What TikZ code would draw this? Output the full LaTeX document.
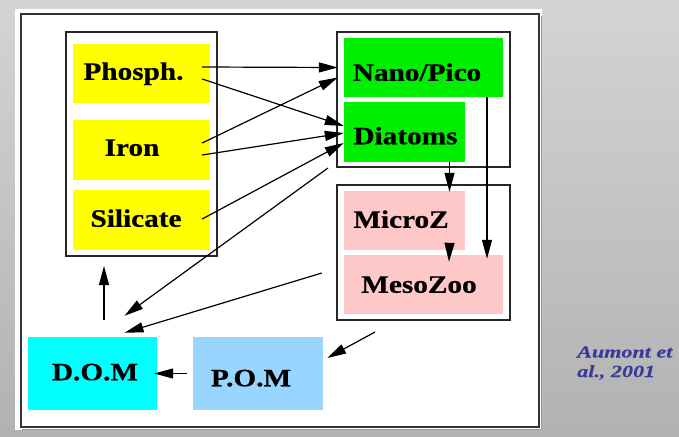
\documentclass[tikz,border=0pt]{standalone}
\usepackage{fontspec}
\setmainfont{Liberation Serif}
\newfontfamily\boxfont[FakeBold=0.6]{Liberation Serif Bold}
\newfontfamily\reffont[FakeBold=0.4]{Liberation Serif Bold Italic}
\usetikzlibrary{arrows.meta,calc}
\newcommand\sx[1]{\scalebox{1.17}[1]{#1}}
% #1 = x shift (px, right), #2 = y shift (px, down), #3 = text
\newcommand\tx[3]{\makebox[0pt]{\hspace*{#1pt}\hspace*{#1pt}\raisebox{-#2pt}{\sx{#3}}}}
\definecolor{bgtop}{HTML}{D4D4D4}
\definecolor{bgbot}{HTML}{B2B2B2}
\definecolor{yel}{HTML}{FFFF00}
\definecolor{grn}{HTML}{00EE00}
\definecolor{pnk}{HTML}{FFC8C8}
\definecolor{cya}{HTML}{00FFFF}
\definecolor{lbl}{HTML}{99D6FF}
\definecolor{ref}{HTML}{3A3A99}
\begin{document}
\begin{tikzpicture}[x=1pt,y=-1pt,
  box/.style={rectangle, inner sep=0pt, text height=16.5pt, text depth=0pt,
    font=\boxfont\fontsize{25}{30}\selectfont},
  grp/.style={draw=black!85, line width=1.2pt},
  arr/.style={-{Triangle[length=19pt,width=10pt]}, line width=1.2pt},
]
\useasboundingbox (0,0) rectangle (679,436);
\shade[top color=bgtop, bottom color=bgbot] (0,0) rectangle (679,436);
\fill[white] (15,9) rectangle (542,430);
\draw[black!40, line width=1.2pt] (541.5,16) -- (541.5,429.5) -- (22,429.5);
\draw[black!80, line width=1.6pt] (21,14) rectangle (539,427);

% group frames
\draw[grp] (66,32) rectangle (217,256);
\coordinate (grpLs) at (141.5,256);
\draw[grp] (337,32) rectangle (510,167);
\coordinate (grpTsw) at (337,167);
\draw[grp] (337,185) rectangle (510,320);
\coordinate (grpBs) at (423.5,320);

% boxes
\node[box, fill=yel, minimum width=137, minimum height=59] (ph) at (141.5,73.5) {\tx{-8}{-2}{Phosph.}};
\node[box, fill=yel, minimum width=137, minimum height=60] (fe) at (141.5,150) {\tx{-9.5}{-2.5}{Iron}};
\node[box, fill=yel, minimum width=137, minimum height=60] (si) at (141.5,220) {\tx{-5.5}{-1.5}{Silicate}};
\node[box, fill=grn, minimum width=159, minimum height=59] (np) at (423.5,67.5) {\tx{-6.5}{5}{Nano/Pico}};
\node[box, fill=grn, minimum width=121, minimum height=60] (dia) at (404.5,132) {\tx{1}{4}{Diatoms}};
\node[box, fill=pnk, minimum width=121, minimum height=59] (mic) at (404.5,220.5) {\tx{-3.5}{-1}{MicroZ}};
\node[box, fill=pnk, minimum width=159, minimum height=59] (meso) at (423.5,284.5) {\tx{-4.5}{0}{MesoZoo}};
\node[box, fill=cya, minimum width=129, minimum height=73] (dom) at (92.5,373.5) {\tx{2.5}{-1.5}{D.O.M}};
\node[box, fill=lbl, minimum width=130, minimum height=73] (pom) at (258,373.5) {\tx{-7}{4.5}{P.O.M}};

% reference
\node[anchor=base west, inner sep=0pt, text=ref, align=left,
  font=\reffont\fontsize{17}{19.5}\selectfont] (refn) at (577,377)
  {\scalebox{1.3}[1]{Aumont et}\\\scalebox{1.3}[1]{al., 2001}};

% arrows
\draw[arr] ($(ph.east)+(-8,-6.5)$) -- ($(np.west)+(-6,0)$);
\draw[arr] ($(ph.east)+(-8,5.5)$) -- ($(dia.west)+(0,-6)$);
\draw[arr] ($(fe.east)+(-8,-7)$) -- ($(np.west)+(-6,10)$);
\draw[arr] ($(fe.east)+(-8,5)$) -- ($(dia.west)+(0,1)$);
\draw[arr] ($(si.east)+(-8,-1)$) -- ($(dia.west)+(0,11)$);
\draw[arr] ($(grpTsw)+(-9,1)$) -- ($(dom.north)+(32,-21)$);
\draw[arr] ($(meso.west)+(-22,-11.5)$) -- ($(dom.north)+(32,-4)$);
\draw[arr] ($(dom.north)+(11.5,-17)$) -- ($(grpLs)+(-37.5,10)$);
\draw[arr] ($(grpBs)+(-48.5,12)$) -- ($(pom.east)+(4,-15.5)$);
\draw[arr] ($(pom.west)+(-6,0)$) -- ($(dom.east)+(-3,0)$);
\draw[arr] ($(dia.south)+(45,0)$) -- ($(mic.north)+(45,1)$);
\draw[arr] ($(mic.south)+(45,-6)$) -- ($(meso.north)+(25.5,7)$);
\draw[arr] ($(np.south)+(63.5,0)$) -- ($(meso.north)+(63.5,4)$);
\end{tikzpicture}
\end{document}
